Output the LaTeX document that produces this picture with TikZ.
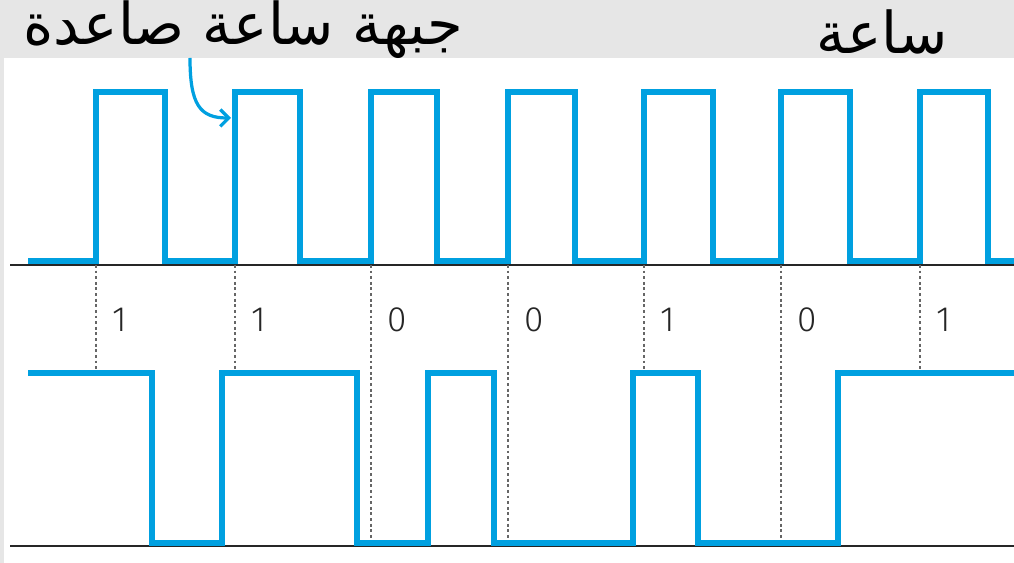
\documentclass[tikz,border=0pt]{standalone}
\usepackage{fontspec}
\usepackage{xcolor}
\usepackage{tikz}
\usetikzlibrary{arrows.meta}
\TeXXeTstate=1
\newfontfamily\arabicfont[Script=Arabic]{DejaVu Sans}
\newfontfamily\digitfont{Fira Sans Light}
\definecolor{sigblue}{HTML}{00A0E0}
\definecolor{bandgray}{HTML}{E6E6E6}
\tikzset{
  sig/.style={draw=sigblue, line width=3.9pt, line join=miter},
  axis/.style={draw=black!85, line width=1.3pt},
  guide/.style={draw=black!60, line width=0.9pt, dash pattern=on 2pt off 2pt},
  bit/.style={font=\digitfont\fontsize{25}{28}\selectfont, text=black!85},
  title/.style={font=\arabicfont\fontsize{41}{44}\selectfont, text=black}
}
\begin{document}
\begin{tikzpicture}[x=0.025cm, y=-0.025cm]
    \useasboundingbox (0,0) rectangle (1014,563);
    \fill[bandgray] (0,0) rectangle (1014,58);
    \fill[bandgray] (0,0) rectangle (4,563);
    \node[title] (risingLbl) at (243,30) {\beginR جبهة ساعة صاعدة\endR};
    \node[title] (clockLbl) at (882,32) {\beginR ساعة\endR};
    \draw[axis] (10,265) -- (1014,265);
    \draw[axis] (10,546) -- (1014,546);
    \foreach \x/\y/\b in {96/373/1,235/373/1,371/545/0,508/545/0,644/373/1,781/545/0,920/373/1}{
      \draw[guide] (\x,265) -- (\x,\y);
      \node[bit, anchor=west] (bit\x) at (\x+12,320) {\b};
    }
    \draw[sig] (28,261) -| (96,92) -| (165,261) -| (235,92) -| (300,261) -| (371,92) -| (437,261)
      -| (508,92) -| (575,261) -| (644,92) -| (713,261) -| (781,92) -| (850,261) -| (920,92) -| (988,261) -- (1014,261);
    \draw[sig] (28,373) -| (152,543) -| (222,373) -| (357,543) -| (428,373) -| (494,543)
      -| (633,373) -| (698,543) -| (838,373) -- (1014,373);
    \coordinate (edgeTip) at (231,118);
    \draw[draw=sigblue, line width=2.3pt, -{Straight Barb[length=6pt,width=12pt]}]
      (190,58) .. controls (190,105) and (200,118) .. (edgeTip);
  \end{tikzpicture}
\end{document}
